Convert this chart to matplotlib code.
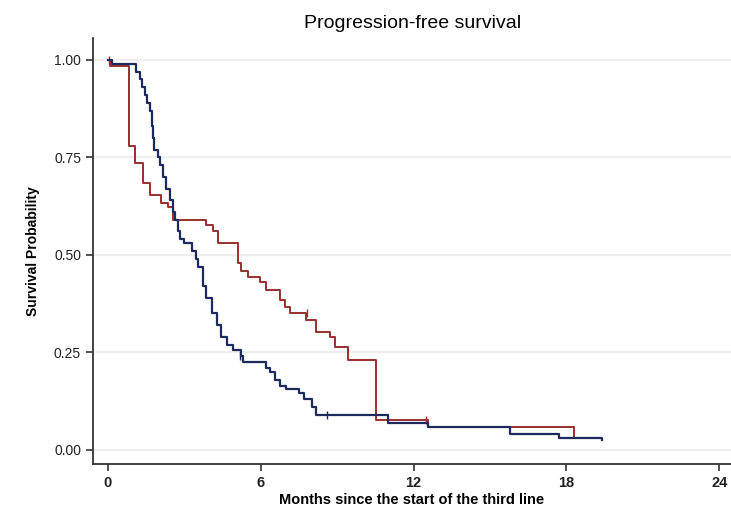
import matplotlib.pyplot as plt

plt.rcParams['font.family'] = ['Liberation Sans', 'DejaVu Sans']

# Kaplan-Meier step points (months, survival after step)
blue_t = [0, 0.15, 1.12, 1.25, 1.35, 1.45, 1.55, 1.65, 1.72, 1.76, 1.82, 1.95,
          2.05, 2.15, 2.30, 2.45, 2.55, 2.65, 2.75, 2.85, 3.00, 3.30, 3.45, 3.55,
          3.74, 3.87, 4.07, 4.27, 4.46, 4.66, 4.93, 5.24, 5.30, 6.20, 6.35, 6.55,
          6.75, 7.00, 7.50, 7.70, 8.00, 8.16, 11.0, 12.56, 15.8, 17.7, 19.4]
blue_s = [1.0, 0.99, 0.97, 0.95, 0.93, 0.91, 0.89, 0.87, 0.83, 0.80, 0.77, 0.75,
          0.73, 0.70, 0.67, 0.64, 0.61, 0.59, 0.56, 0.54, 0.53, 0.51, 0.49, 0.47,
          0.42, 0.39, 0.35, 0.32, 0.29, 0.27, 0.255, 0.24, 0.225, 0.21, 0.20, 0.18,
          0.165, 0.155, 0.145, 0.13, 0.11, 0.09, 0.068, 0.058, 0.04, 0.03, 0.025]

red_t = [0, 0.1, 0.84, 1.06, 1.39, 1.65, 2.10, 2.37, 2.56, 3.87, 4.13, 4.33,
         5.09, 5.24, 5.50, 5.96, 6.22, 6.75, 6.94, 7.14, 7.79, 8.18, 8.70, 8.90,
         9.42, 10.53, 12.56, 18.3]
red_s = [1.0, 0.985, 0.78, 0.735, 0.684, 0.654, 0.633, 0.624, 0.59, 0.577, 0.56, 0.53,
         0.48, 0.46, 0.444, 0.43, 0.41, 0.385, 0.367, 0.35, 0.333, 0.303, 0.29, 0.265,
         0.23, 0.077, 0.058, 0.03]

# censored observations (small ticks)
blue_cens_t = [5.2, 8.6]
blue_cens_s = [0.24, 0.09]
red_cens_t = [0.05, 7.8, 12.5]
red_cens_s = [1.0, 0.35, 0.077]

xticks = [0, 6, 12, 18, 24]
yticks = [0, 0.25, 0.5, 0.75, 1.0]

blue = "#1c2a5e"
red = "#9a2e2e"

fig = plt.figure(figsize=(7.31, 5.24), dpi=100)
ax = fig.add_axes([0.127, 0.1145, 0.873, 0.813])

for y in yticks:
    ax.axhline(y, color="#eeeeee", lw=1.6, zorder=0)

ax.step(blue_t, blue_s, where="post", color=blue, lw=1.6, zorder=3)
ax.step(red_t, red_s, where="post", color=red, lw=1.4, zorder=2)
ax.plot(blue_cens_t, blue_cens_s, ls="none", marker="|", ms=6, mew=1, color=blue)
ax.plot(red_cens_t, red_cens_s, ls="none", marker="|", ms=6, mew=1, color=red)

ax.set_xlim(-0.59, 24.46)
ax.set_ylim(-0.036, 1.056)
ax.set_xticks(xticks)
ax.set_xticklabels([str(x) for x in xticks], fontsize=10.5, fontweight="bold", color="#222222")
ax.set_yticks(yticks)
ax.set_yticklabels(["%.2f" % y for y in yticks], fontsize=10, color="#222222")
ax.tick_params(direction="out", length=5, width=1.2, color="#333333")

for s in ["top", "right"]:
    ax.spines[s].set_visible(False)
for s in ["left", "bottom"]:
    ax.spines[s].set_color("#333333")
    ax.spines[s].set_linewidth(1.3)

ax.set_xlabel("Months since the start of the third line", fontsize=10.5,
              fontweight="bold", labelpad=2)
ax.set_ylabel("Survival Probability", fontsize=10, fontweight="bold", labelpad=10)
fig.text(0.565, 0.955, "Progression-free survival", ha="center", va="center", fontsize=14)

fig.savefig("out.png", dpi=100)
